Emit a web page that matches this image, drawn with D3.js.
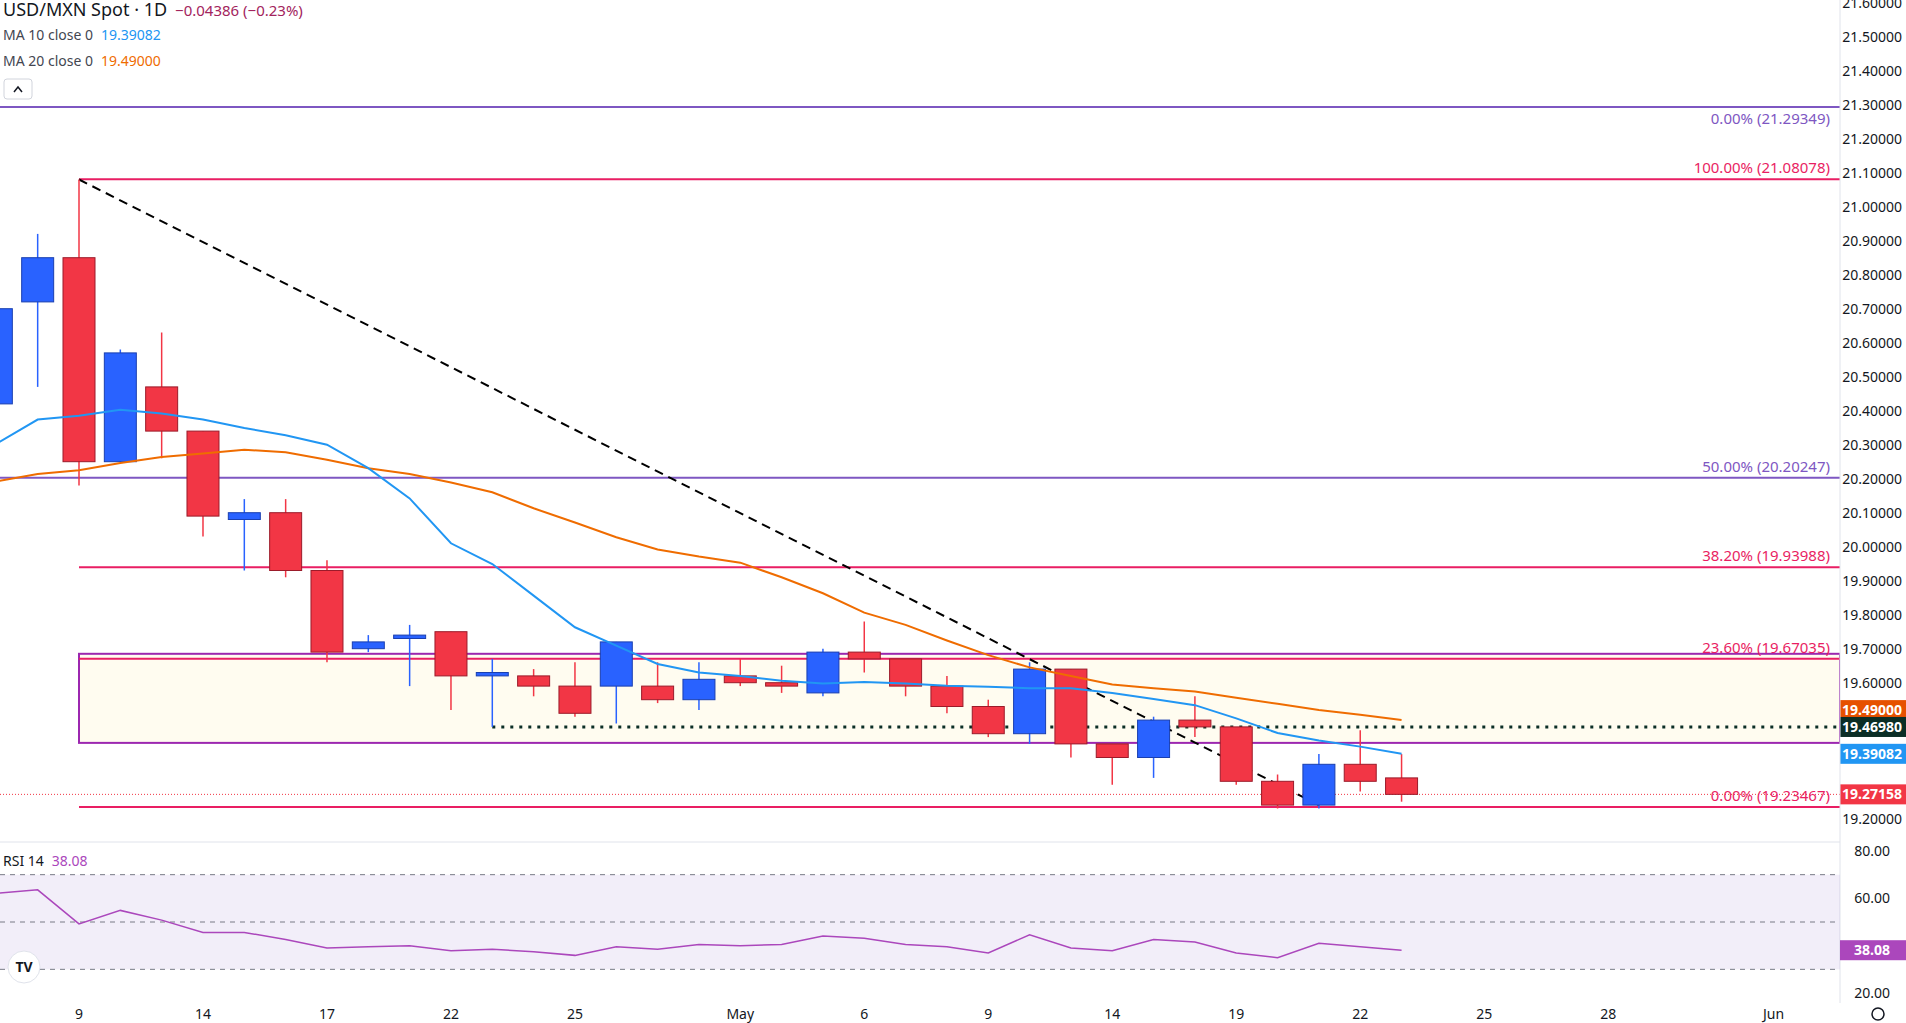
<!DOCTYPE html>
<html><head><meta charset="utf-8">
<script src="https://cdn.jsdelivr.net/npm/d3@7"></script>
<style>body{margin:0;background:#fff;font-family:"Noto Sans",Roboto,sans-serif}</style>
</head><body><svg id="c" width="1906" height="1023"></svg>
<script>
// ---- data ----
const startIndex = -2;
const opens  = [20.42,20.72,20.85,20.25,20.47,20.34,20.08,20.10,19.93,19.70,19.73,19.75,19.62,19.62,19.59,19.59,19.59,19.55,19.62,19.60,19.57,19.69,19.67,19.59,19.53,19.45,19.64,19.42,19.38,19.49,19.47,19.31,19.24,19.36,19.32];
const highs  = [20.75,20.92,21.08,20.58,20.63,20.34,20.14,20.14,19.96,19.74,19.77,19.75,19.67,19.64,19.66,19.72,19.66,19.66,19.67,19.65,19.70,19.78,19.67,19.62,19.55,19.66,19.64,19.42,19.50,19.56,19.47,19.33,19.39,19.46,19.39];
const lows   = [20.30,20.47,20.18,20.25,20.26,20.03,19.93,19.91,19.66,19.69,19.59,19.52,19.47,19.56,19.50,19.48,19.54,19.52,19.59,19.57,19.56,19.63,19.56,19.51,19.44,19.42,19.38,19.30,19.32,19.44,19.30,19.23,19.23,19.28,19.25];
const closes = [20.70,20.85,20.25,20.57,20.34,20.09,20.10,19.93,19.69,19.72,19.74,19.62,19.63,19.59,19.51,19.72,19.55,19.61,19.60,19.59,19.69,19.67,19.59,19.53,19.45,19.64,19.42,19.38,19.49,19.47,19.31,19.24,19.36,19.31,19.27158];
const ma10 = [20.303,20.374,20.385,20.403,20.392,20.374,20.349,20.328,20.300,20.231,20.142,20.010,19.949,19.856,19.763,19.709,19.655,19.630,19.620,19.606,19.598,19.602,19.598,19.591,19.588,19.584,19.584,19.570,19.552,19.534,19.495,19.452,19.430,19.412,19.39082];
const ma20 = [20.192,20.214,20.225,20.246,20.264,20.274,20.285,20.278,20.256,20.231,20.214,20.189,20.160,20.113,20.071,20.028,19.992,19.971,19.953,19.910,19.863,19.806,19.770,19.724,19.681,19.645,19.620,19.595,19.584,19.574,19.556,19.538,19.520,19.506,19.49000];
const rsi = [62.1,63.6,49.2,54.9,50.8,45.6,45.6,42.6,39.0,39.5,40.0,37.9,38.5,37.4,35.9,39.5,38.5,40.5,40.0,40.5,44.1,43.1,40.5,39.5,36.9,44.6,39.0,37.9,42.6,41.5,36.9,34.9,41.0,39.5,38.08];
const xTickLabels = ["9","14","17","22","25","May","6","9","14","19","22","25","28","Jun"];
const xTickIdx    = [0,3,6,9,12,16,19,22,25,28,31,34,37,41];
const priceTicks = [19.2,19.6,19.7,19.8,19.9,20.0,20.1,20.2,20.3,20.4,20.5,20.6,20.7,20.8,20.9,21.0,21.1,21.2,21.3,21.4,21.5,21.6];
const rsiTicks = [80,60,20];
const fibLevels = [
  {label:"0.00% (21.29349)", v:21.29349, c:"#7e57c2", full:true, below:true},
  {label:"100.00% (21.08078)", v:21.08078, c:"#e91e63"},
  {label:"50.00% (20.20247)", v:20.20247, c:"#7e57c2", full:true},
  {label:"38.20% (19.93988)", v:19.93988, c:"#e91e63"},
  {label:"23.60% (19.67035)", v:19.67035, c:"#e91e63"},
  {label:"0.00% (19.23467)", v:19.23467, c:"#e91e63"}
];
const zoneTop = 19.685, zoneBottom = 19.423;
const supportLevel = 19.4698, supportStartIdx = 10;
const trendStart = {i:0, v:21.08}, trendEnd = {i:30, v:19.24};
const lastPrice = 19.27158;

// ---- scales ----
const W = 1906, plotR = 1840;
const x = d3.scaleLinear().domain([0,1]).range([79,120.33]);
const y = d3.scaleLinear().domain([19.9,19.6]).range([580.7,682.7]);
const yr = d3.scaleLinear().domain([80,20]).range([851,993]);
const svg = d3.select("#c");
const font = '"Noto Sans",Roboto,sans-serif';
const idx = d => startIndex + d;

svg.append("clipPath").attr("id","pc").append("rect").attr("x",0).attr("y",0).attr("width",plotR).attr("height",842);
const g = svg.append("g").attr("clip-path","url(#pc)");

g.append("rect").attr("x",x(0)).attr("width",plotR-x(0)).attr("y",y(zoneTop)).attr("height",y(zoneBottom)-y(zoneTop))
 .attr("fill","#fffcf0").attr("stroke","#9c27b0").attr("stroke-width",2);
fibLevels.forEach(f=>{
  g.append("line").attr("x1",f.full?0:x(0)).attr("x2",plotR).attr("y1",y(f.v)).attr("y2",y(f.v)).attr("stroke",f.c).attr("stroke-width",2);
  svg.append("text").attr("x",1830).attr("y",f.below? y(f.v)+17 : y(f.v)-6).attr("text-anchor","end").attr("font-size",15).attr("font-family",font).attr("fill",f.c).text(f.label);
});
g.append("line").attr("x1",0).attr("x2",plotR).attr("y1",y(lastPrice)).attr("y2",y(lastPrice)).attr("stroke","#f23645").attr("stroke-width",1).attr("stroke-dasharray","1,2");
g.append("line").attr("x1",x(supportStartIdx)).attr("x2",plotR).attr("y1",y(supportLevel)).attr("y2",y(supportLevel)).attr("stroke","#0b2e26").attr("stroke-width",3).attr("stroke-dasharray","3,6");
g.append("line").attr("x1",x(trendStart.i)).attr("y1",y(trendStart.v)).attr("x2",x(trendEnd.i)).attr("y2",y(trendEnd.v)).attr("stroke","#000").attr("stroke-width",2).attr("stroke-dasharray","9,6");

const bw = 32;
opens.forEach((o,k)=>{
  const i = idx(k), c = closes[k], up = c>=o;
  const col = up? "#2962ff":"#f23645", sc = up? "#1a3fb0":"#9b1b2a";
  g.append("line").attr("x1",x(i)).attr("x2",x(i)).attr("y1",y(highs[k])).attr("y2",y(lows[k])).attr("stroke",col).attr("stroke-width",1.5);
  g.append("rect").attr("x",x(i)-bw/2).attr("width",bw).attr("y",y(Math.max(o,c))).attr("height",Math.max(1.5,Math.abs(y(o)-y(c))))
   .attr("fill",col).attr("stroke",sc).attr("stroke-width",1);
});
const lineGen = d3.line().x((d,k)=>x(idx(k))).y(d=>y(d));
g.append("path").datum(ma20).attr("d",lineGen).attr("fill","none").attr("stroke","#ef6c00").attr("stroke-width",2);
g.append("path").datum(ma10).attr("d",lineGen).attr("fill","none").attr("stroke","#2196f3").attr("stroke-width",2);

priceTicks.forEach(t=>{
  svg.append("text").attr("x",1902).attr("y",y(t)+5).attr("text-anchor","end").attr("font-size",14).attr("font-family",font).attr("fill","#131722").text(t.toFixed(5));
});
const boxes = [[19.49,"#e65100","19.49000",-10],[19.4698,"#0b2e26","19.46980",0],[19.39082,"#2196f3","19.39082",0],[lastPrice,"#f23645","19.27158",0]];
boxes.forEach(b=>{
  const cy = y(b[0])+b[3];
  svg.append("rect").attr("x",plotR).attr("width",W-plotR).attr("y",cy-10).attr("height",20).attr("fill",b[1]);
  svg.append("text").attr("x",1902).attr("y",cy+5).attr("text-anchor","end").attr("font-size",14).attr("font-weight","bold").attr("font-family",font).attr("fill","#fff").text(b[2]);
});
svg.append("line").attr("x1",0).attr("x2",plotR).attr("y1",842).attr("y2",842).attr("stroke","#e0e3eb");
svg.append("line").attr("x1",plotR).attr("x2",plotR).attr("y1",0).attr("y2",1003).attr("stroke","#e0e3eb");

svg.append("rect").attr("x",0).attr("width",plotR).attr("y",yr(70)).attr("height",yr(30)-yr(70)).attr("fill","#7e57c2").attr("opacity",0.1);
[70,50,30].forEach(v=>svg.append("line").attr("x1",0).attr("x2",plotR).attr("y1",yr(v)).attr("y2",yr(v)).attr("stroke","#787b86").attr("stroke-dasharray","5,5"));
const rline = d3.line().x((d,k)=>x(idx(k))).y(d=>yr(d));
svg.append("path").datum(rsi).attr("d",rline).attr("fill","none").attr("stroke","#ab47bc").attr("stroke-width",1.5);
rsiTicks.forEach(t=>svg.append("text").attr("x",1890).attr("y",yr(t)+5).attr("text-anchor","end").attr("font-size",14).attr("font-family",font).attr("fill","#131722").text(t.toFixed(2)));
svg.append("rect").attr("x",plotR).attr("width",W-plotR).attr("y",yr(38.08)-10).attr("height",20).attr("fill","#ab47bc");
svg.append("text").attr("x",1890).attr("y",yr(38.08)+5).attr("text-anchor","end").attr("font-size",14).attr("font-weight","bold").attr("font-family",font).attr("fill","#fff").text("38.08");
const rl = svg.append("text").attr("x",3).attr("y",866).attr("font-size",14).attr("font-family",font).attr("fill","#131722");
rl.append("tspan").text("RSI 14");rl.append("tspan").attr("dx",8).attr("fill","#ab47bc").text("38.08");

xTickLabels.forEach((l,k)=>svg.append("text").attr("x",x(xTickIdx[k])).attr("y",1019).attr("text-anchor","middle").attr("font-size",14).attr("font-family",font).attr("fill","#131722").text(l));

const h = svg.append("text").attr("x",3).attr("y",16).attr("font-family",font).attr("font-size",18).attr("fill","#131722");
h.append("tspan").text("USD/MXN Spot · 1D");
h.append("tspan").attr("dx",8).attr("font-size",15).attr("fill","#a3245d").text("−0.04386 (−0.23%)");
const l1 = svg.append("text").attr("x",3).attr("y",40).attr("font-family",font).attr("font-size",14).attr("fill","#434651");
l1.append("tspan").text("MA 10 close 0");l1.append("tspan").attr("dx",8).attr("fill","#2196f3").text("19.39082");
const l2 = svg.append("text").attr("x",3).attr("y",66).attr("font-family",font).attr("font-size",14).attr("fill","#434651");
l2.append("tspan").text("MA 20 close 0");l2.append("tspan").attr("dx",8).attr("fill","#ef6c00").text("19.49000");
svg.append("rect").attr("x",4).attr("y",79).attr("width",28).attr("height",20).attr("rx",3).attr("fill","#fff").attr("stroke","#d1d4dc");
svg.append("path").attr("d","M14,92 L18,87 L22,92").attr("fill","none").attr("stroke","#131722").attr("stroke-width",1.5);
svg.append("circle").attr("cx",24).attr("cy",967).attr("r",16).attr("fill","#fff").attr("stroke","#e0e3eb");
svg.append("text").attr("x",24).attr("y",972).attr("text-anchor","middle").attr("font-size",14).attr("font-weight","bold").attr("font-family",font).attr("fill","#131722").text("TV");
svg.append("circle").attr("cx",1878).attr("cy",1014).attr("r",6).attr("fill","none").attr("stroke","#131722").attr("stroke-width",1.5);
</script></body></html>
